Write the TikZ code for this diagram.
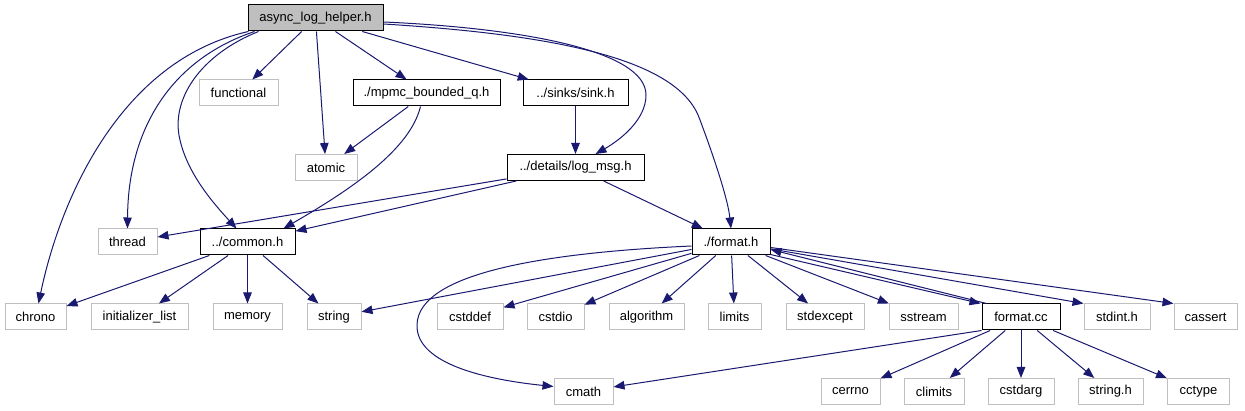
\documentclass[tikz,border=0pt]{standalone}
\usepackage{fontspec}
\setmainfont{Liberation Sans}
\usetikzlibrary{arrows.meta,calc}
\definecolor{edgecol}{HTML}{191970}
\definecolor{graybd}{HTML}{BFBFBF}
\begin{document}
\begin{tikzpicture}[x=1pt,y=-1pt,
  box/.style={draw=black,line width=1pt,inner sep=0pt,minimum height=26pt,font=\fontsize{13}{15}\selectfont},
  ext/.style={box,draw=graybd},
  rootbox/.style={box,fill=graybd},
  edge/.style={draw=edgecol,line width=1pt,-{Triangle[length=11pt,width=8.5pt]}}]
\useasboundingbox (0,0) rectangle (1245,411);
% nodes
\node[rootbox,minimum width=135pt] (root) at (315.5,18) {async\_log\_helper.h};
\node[ext,minimum width=79pt] (func) at (238.5,93) {functional};
\node[box,minimum width=147pt] (mpmc) at (426.5,93) {./mpmc\_bounded\_q.h};
\node[box,minimum width=105pt] (sink) at (575.5,93) {../sinks/sink.h};
\node[ext,minimum width=62pt] (atomic) at (326,167.5) {atomic};
\node[box,minimum width=137pt] (logmsg) at (575.5,167.5) {../details/log\_msg.h};
\node[ext,minimum width=59pt] (thread) at (127.5,242) {thread};
\node[box,minimum width=95pt] (common) at (247.5,242) {../common.h};
\node[box,minimum width=78pt] (fmth) at (731,242) {./format.h};
\node[ext,minimum width=61pt] (chrono) at (35.5,317) {chrono};
\node[ext,minimum width=97pt] (initl) at (139.5,317) {initializer\_list};
\node[ext,minimum width=69pt] (memory) at (247.5,317) {memory};
\node[ext,minimum width=54pt] (string) at (334,317) {string};
\node[ext,minimum width=66pt] (cstddef) at (470,317) {cstddef};
\node[ext,minimum width=57pt] (cstdio) at (555.5,317) {cstdio};
\node[ext,minimum width=75pt] (algorithm) at (646.5,317) {algorithm};
\node[ext,minimum width=53pt] (limits) at (734.5,317) {limits};
\node[ext,minimum width=78pt] (stdexcept) at (825,317) {stdexcept};
\node[ext,minimum width=69pt] (sstream) at (923.5,317) {sstream};
\node[box,minimum width=78pt] (fcc) at (1021,317) {format.cc};
\node[ext,minimum width=66pt] (stdint) at (1117,317) {stdint.h};
\node[ext,minimum width=63pt] (cassert) at (1205.5,317) {cassert};
\node[ext,minimum width=59pt] (cmath) at (583.5,391.5) {cmath};
\node[ext,minimum width=59pt] (cerrno) at (850.5,391.5) {cerrno};
\node[ext,minimum width=60pt] (climits) at (934,391.5) {climits};
\node[ext,minimum width=66pt] (cstdarg) at (1021,391.5) {cstdarg};
\node[ext,minimum width=65pt] (stringh) at (1110.5,391.5) {string.h};
\node[ext,minimum width=62pt] (cctype) at (1198.5,391.5) {cctype};
% edges from root
\draw[edge] (root) -- (func);
\draw[edge] (root) -- (mpmc);
\draw[edge] (root) -- (sink);
\draw[edge] (root) -- (atomic);
\draw[edge] ($(root.south west)+(1,0)$) .. controls (120,60) and (60,200) .. ($(chrono.north)+(3,0)$);
\draw[edge] ($(root.south west)+(7,0)$) .. controls (170,60) and (128,130) .. (thread.north);
\draw[edge] ($(root.south west)+(11,0)$) .. controls (200,55) and (170,100) .. (180,140) .. controls (188,175) and (215,205) .. ($(common.north)+(-11,0)$);
\draw[edge] ($(root.east)+(0,4)$) .. controls (520,28) and (646,50) .. (646,95) .. controls (646,120) and (620,140) .. ($(logmsg.north)+(20,0)$);
\draw[edge] ($(root.east)+(0,6)$) .. controls (560,35) and (680,60) .. (700,120) .. controls (715,160) and (728,200) .. (fmth.north);
% mpmc
\draw[edge] (mpmc) -- (atomic);
\draw[edge] ($(mpmc.south)+(-6,0)$) .. controls (410,150) and (350,190) .. ($(common.north east)+(-12,0)$);
% sink
\draw[edge] (sink) -- (logmsg);
% log_msg
\draw[edge] (logmsg) -- (thread);
\draw[edge] (logmsg) -- (common);
\draw[edge] (logmsg) -- (fmth);
% common
\draw[edge] (common) -- (chrono);
\draw[edge] (common) -- (initl);
\draw[edge] (common) -- (memory);
\draw[edge] (common) -- (string);
% format.h
\draw[edge] (fmth) -- (string);
\draw[edge] ($(fmth.west)+(0,4)$) .. controls (560,252) and (418,270) .. (417,325) .. controls (416,365) and (490,380) .. ($(cmath.west)+(0,-5)$);
\draw[edge] (fmth) -- (cstddef);
\draw[edge] (fmth) -- (cstdio);
\draw[edge] (fmth) -- (algorithm);
\draw[edge] (fmth) -- (limits);
\draw[edge] (fmth) -- (stdexcept);
\draw[edge] (fmth) -- (sstream);
\draw[edge] ($(fmth.south east)+(0,-1)$) -- ($(fcc.north west)+(-1,0)$);
\draw[edge] ($(fcc.north west)+(5,0)$) -- ($(fmth.south east)+(0,-6)$);
\draw[edge] (fmth) -- (stdint.north west);
\draw[edge] (fmth) -- (cassert.north west);
% format.cc
\draw[edge] (fcc.south west) -- (cmath);
\draw[edge] (fcc) -- (cerrno);
\draw[edge] (fcc) -- (climits);
\draw[edge] (fcc) -- (cstdarg);
\draw[edge] (fcc) -- (stringh);
\draw[edge] (fcc) -- (cctype);
\end{tikzpicture}
\end{document}
